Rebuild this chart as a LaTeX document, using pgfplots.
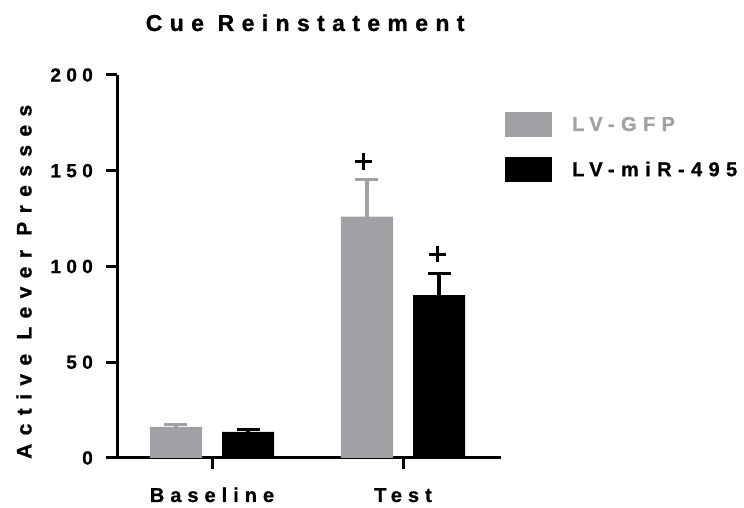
\documentclass[border=0pt]{standalone}
\usepackage{pgfplots}
\pgfplotsset{compat=1.18}
\usepackage{fontspec}
\setmainfont{Liberation Sans}
\newfontfamily\spA[LetterSpace=28,FakeBold=1]{Liberation Sans Bold}
\newfontfamily\spB[LetterSpace=30,FakeBold=1]{Liberation Sans Bold}
\newfontfamily\spC[LetterSpace=40,FakeBold=1]{Liberation Sans Bold}
\newfontfamily\spD[LetterSpace=32,FakeBold=1]{Liberation Sans Bold}
\definecolor{gfp}{RGB}{161,160,165}
\begin{document}
\begin{tikzpicture}
\useasboundingbox (0,0) rectangle (744pt,508pt);
\begin{axis}[
  at={(117pt,50pt)}, anchor=south west,
  scale only axis, width=384pt, height=383pt,
  xmin=-0.4974, xmax=1.5131, ymin=0, ymax=200,
  axis lines*=left,
  axis line style={line width=3pt},
  x axis line style={shorten <=-11pt},
  xtick={0,1}, xticklabels={Baseline,Test},
  ytick={0,50,100,150,200}, yticklabels={0,50,100,150,200},
  tick align=outside, major tick length=11pt,
  tick style={line width=3pt, black},
  yticklabel style={font=\fontsize{19}{19}\selectfont\spA, anchor=east, inner sep=0pt, xshift=-13pt},
  xticklabel style={font=\fontsize{20}{20}\selectfont\spB, anchor=base, inner sep=0pt},
  xticklabel shift=33pt,
  title={Cue Reinstatement},
  title style={font=\fontsize{23}{23}\selectfont\spD, at={(rel axis cs:0.49,1)}, anchor=base, yshift=38pt},
  ylabel={Active Lever Presses},
  ylabel style={font=\fontsize{21}{21}\selectfont\spC, at={(rel axis cs:-0.2422,0.46)}, anchor=center},
  legend style={draw=none, fill=none, at={(rel axis cs:1,1)}, anchor=north west,
    xshift=4pt, yshift=-37pt, row sep=20pt, column sep=20pt,
    font=\fontsize{20}{20}\selectfont\spD,
    inner sep=0pt, nodes={inner sep=0pt}},
  legend cell align=left,
  legend image code/.code={\fill[#1] (0pt,-12.5pt) rectangle (47pt,12.5pt);},
]
\addplot[ybar, bar width=52pt, bar shift=0pt, fill=gfp, draw=none,
  error bars/.cd, y dir=plus, y explicit, error mark=|,
  error bar style={line width=3.5pt, gfp},
  error mark options={mark size=11.5pt, line width=3.5pt, gfp}]
  coordinates {(-0.1885,16.3) +- (0,1.3) (0.8115,126) +- (0,19.5)};
\addlegendentry{\textcolor{gfp}{LV-GFP}}
\addplot[ybar, bar width=52pt, bar shift=0pt, fill=black, draw=none,
  error bars/.cd, y dir=plus, y explicit, error mark=|,
  error bar style={line width=3.5pt, black},
  error mark options={mark size=11.5pt, line width=3.5pt, black}]
  coordinates {(0.1885,13.7) +- (0,1.3) (1.1885,85) +- (0,11.4)};
\addlegendentry{LV-miR-495}
\addplot[only marks, mark=+, mark size=8.3pt, line width=3pt, black, forget plot]
  coordinates {(0.792,154.7) (1.18,106.5)};
\end{axis}
\end{tikzpicture}
\end{document}
